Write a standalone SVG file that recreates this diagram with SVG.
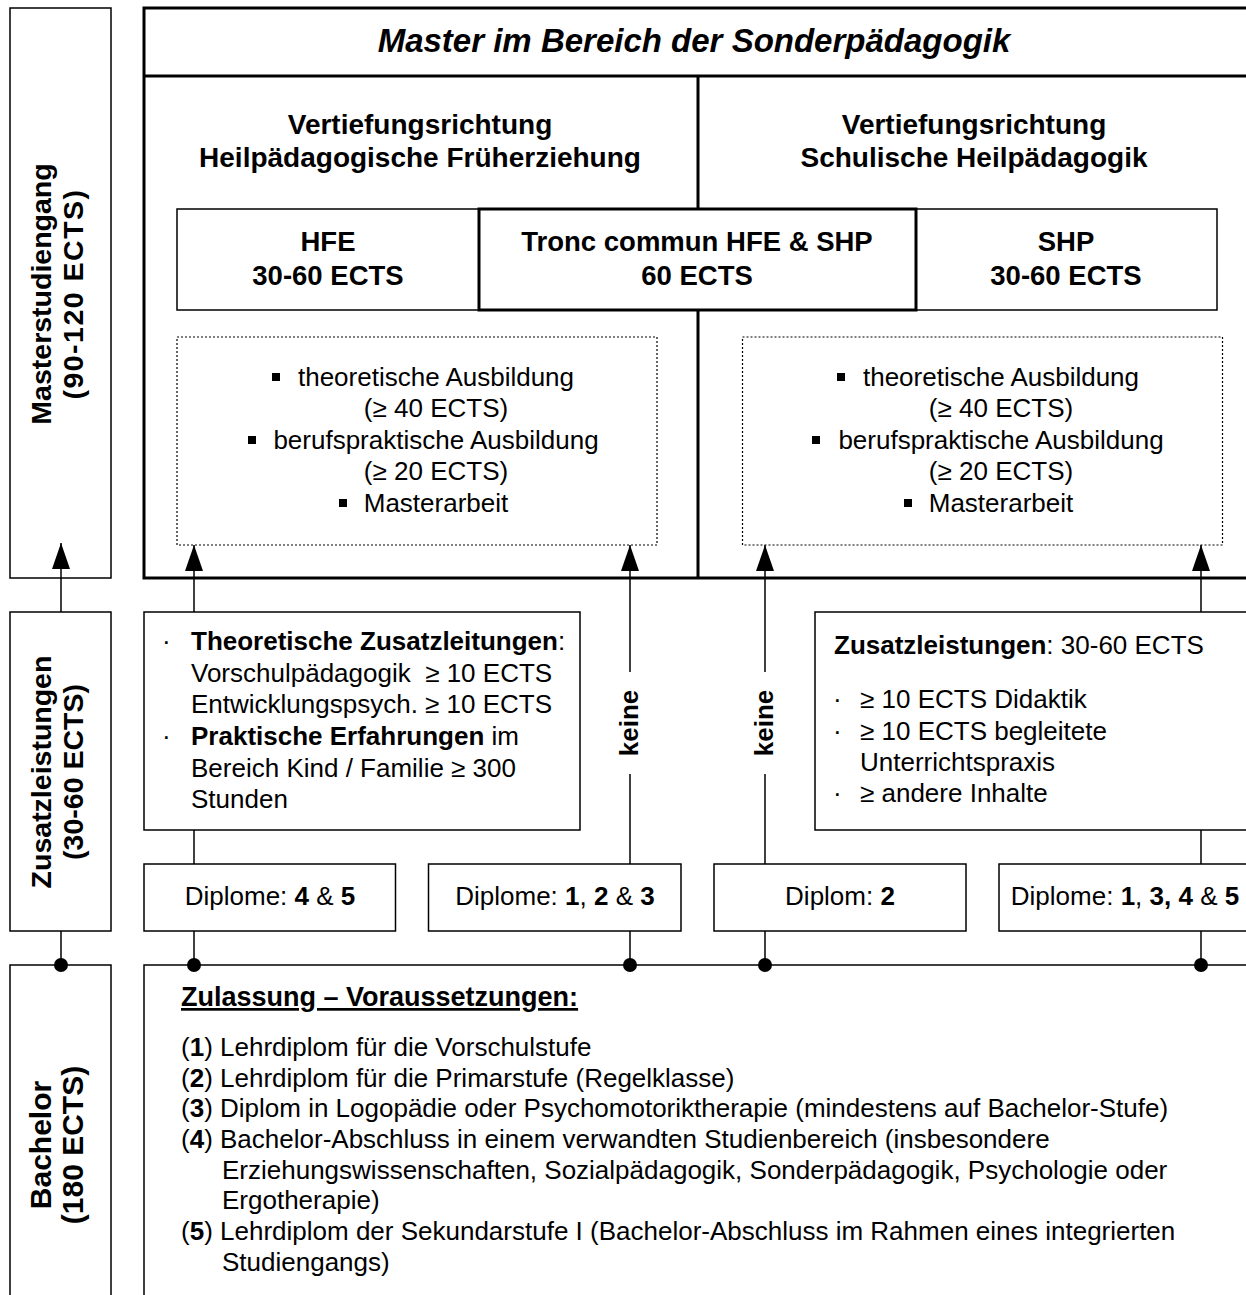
<svg xmlns="http://www.w3.org/2000/svg" width="1246" height="1295" viewBox="0 0 1246 1295">
<defs>
<style>
.box{fill:#fff;stroke:#000;stroke-width:1.5}
.thick{fill:#fff;stroke:#000;stroke-width:3}
.dotted{fill:none;stroke:#000;stroke-width:1.2;stroke-dasharray:2 2}
.ln{stroke:#000;stroke-width:1.5;fill:none}
.hl{stroke:#000;stroke-width:3;fill:none}
text{font-family:"Liberation Sans",Arial,sans-serif;fill:#000}
.b{font-weight:bold}
.c{text-anchor:middle}
.t26{font-size:26px}
.t27{font-size:27.5px;font-weight:bold;text-anchor:middle}
.t28{font-size:28px;font-weight:bold;text-anchor:middle}
.side{font-size:28.5px;font-weight:bold;text-anchor:middle}
</style>
<marker id="arr" markerUnits="userSpaceOnUse" markerWidth="26" markerHeight="18" refX="26" refY="9" orient="auto" viewBox="0 0 26 18">
<path d="M0,0 L26,9 L0,18 z" fill="#000"/>
</marker>
</defs>
<rect width="1246" height="1295" fill="#fff"/>

<g id="side-master">
<rect class="box" x="10" y="8" width="101" height="570"/>
<text class="side" transform="translate(61,294) rotate(-90)"><tspan x="0" y="-10">Masterstudiengang</tspan><tspan x="0" y="22" letter-spacing="1.5">(90-120 ECTS)</tspan></text>
</g>
<g id="side-zusatz">
<rect class="box" x="10" y="612" width="101" height="319"/>
<text class="side" transform="translate(61,772) rotate(-90)"><tspan x="0" y="-10">Zusatzleistungen</tspan><tspan x="0" y="22">(30-60 ECTS)</tspan></text>
</g>
<g id="side-bachelor">
<rect class="box" x="10" y="965" width="101" height="345"/>
<text class="side" style="font-size:30px" transform="translate(61,1145) rotate(-90)"><tspan x="0" y="-10">Bachelor</tspan><tspan x="0" y="22">(180 ECTS)</tspan></text>
</g>

<g id="master">
<rect class="thick" x="144" y="8" width="1130" height="570"/>
<line class="hl" x1="144" y1="76" x2="1274" y2="76"/>
<line class="hl" x1="698" y1="76" x2="698" y2="578"/>
<text class="c b" x="694" y="52" style="font-size:33px;font-style:italic">Master im Bereich der Sonderpädagogik</text>
</g>
<g id="vr-hfe">
<text class="t28"><tspan x="420" y="134">Vertiefungsrichtung</tspan><tspan x="420" y="167">Heilpädagogische Früherziehung</tspan></text>
</g>
<g id="vr-shp">
<text class="t28"><tspan x="974" y="134">Vertiefungsrichtung</tspan><tspan x="974" y="167">Schulische Heilpädagogik</tspan></text>
</g>
<g id="hfe">
<rect class="box" x="177" y="209" width="302" height="101"/>
<text class="t27"><tspan x="328" y="251">HFE</tspan><tspan x="328" y="285">30-60 ECTS</tspan></text>
</g>
<g id="shp">
<rect class="box" x="916" y="209" width="301" height="101"/>
<text class="t27"><tspan x="1066" y="251">SHP</tspan><tspan x="1066" y="285">30-60 ECTS</tspan></text>
</g>
<g id="tronc">
<rect class="thick" x="479" y="209" width="437" height="101"/>
<text class="t27"><tspan x="697" y="251">Tronc commun HFE &amp; SHP</tspan><tspan x="697" y="285">60 ECTS</tspan></text>
</g>

<g id="content-hfe">
<rect class="dotted" x="177" y="337" width="480" height="208"/>
<text class="t26 c"><tspan x="436" y="386">theoretische Ausbildung</tspan><tspan x="436" y="417">(≥ 40 ECTS)</tspan><tspan x="436" y="449">berufspraktische Ausbildung</tspan><tspan x="436" y="480">(≥ 20 ECTS)</tspan><tspan x="436" y="512">Masterarbeit</tspan></text>
<rect x="272" y="373" width="8" height="8"/>
<rect x="248" y="436" width="8" height="8"/>
<rect x="339" y="499" width="8" height="8"/>
</g>
<g id="content-shp">
<rect class="dotted" x="742.5" y="337" width="480" height="208"/>
<text class="t26 c"><tspan x="1001" y="386">theoretische Ausbildung</tspan><tspan x="1001" y="417">(≥ 40 ECTS)</tspan><tspan x="1001" y="449">berufspraktische Ausbildung</tspan><tspan x="1001" y="480">(≥ 20 ECTS)</tspan><tspan x="1001" y="512">Masterarbeit</tspan></text>
<rect x="837" y="373" width="8" height="8"/>
<rect x="812" y="436" width="8" height="8"/>
<rect x="904" y="499" width="8" height="8"/>
</g>

<g id="zusatz-hfe">
<rect class="box" x="144" y="612" width="436" height="218"/>
<text class="t26"><tspan x="162" y="650">·</tspan><tspan x="191" y="650" class="b">Theoretische Zusatzleitungen</tspan><tspan>:</tspan><tspan x="191" y="682">Vorschulpädagogik &#160;≥ 10 ECTS</tspan><tspan x="191" y="713">Entwicklungspsych. ≥ 10 ECTS</tspan><tspan x="162" y="745">·</tspan><tspan x="191" y="745" class="b">Praktische Erfahrungen</tspan><tspan> im</tspan><tspan x="191" y="777">Bereich Kind / Familie ≥ 300</tspan><tspan x="191" y="808">Stunden</tspan></text>
</g>
<g id="zusatz-shp">
<rect class="box" x="815" y="612" width="450" height="218"/>
<text class="t26"><tspan x="834" y="654" class="b">Zusatzleistungen</tspan><tspan>: 30-60 ECTS</tspan><tspan x="833" y="708">·</tspan><tspan x="860" y="708">≥ 10 ECTS Didaktik</tspan><tspan x="833" y="740">·</tspan><tspan x="860" y="740">≥ 10 ECTS begleitete</tspan><tspan x="860" y="771">Unterrichtspraxis</tspan><tspan x="833" y="802">·</tspan><tspan x="860" y="802">≥ andere Inhalte</tspan></text>
</g>

<g id="dipl-45">
<rect class="box" x="144" y="864" width="251.5" height="67"/>
<text class="t26 c" x="270" y="905">Diplome: <tspan class="b">4</tspan> &amp; <tspan class="b">5</tspan></text>
</g>
<g id="dipl-123">
<rect class="box" x="428.5" y="864" width="252.5" height="67"/>
<text class="t26 c" x="555" y="905">Diplome: <tspan class="b">1</tspan>, <tspan class="b">2</tspan> &amp; <tspan class="b">3</tspan></text>
</g>
<g id="dipl-2">
<rect class="box" x="714" y="864" width="252" height="67"/>
<text class="t26 c" x="840" y="905">Diplom: <tspan class="b">2</tspan></text>
</g>
<g id="dipl-1345">
<rect class="box" x="999" y="864" width="270" height="67"/>
<text class="t26 c" x="1125" y="905">Diplome: <tspan class="b">1</tspan>, <tspan class="b">3, 4</tspan> &amp; <tspan class="b">5</tspan></text>
</g>

<g id="zulassung">
<rect class="box" x="144" y="965" width="1130" height="345"/>
<text class="b" x="181" y="1006" style="font-size:27px;text-decoration:underline">Zulassung – Voraussetzungen:</text>
<text class="t26">
<tspan x="181" y="1056">(<tspan class="b">1</tspan>) Lehrdiplom für die Vorschulstufe</tspan>
<tspan x="181" y="1087">(<tspan class="b">2</tspan>) Lehrdiplom für die Primarstufe (Regelklasse)</tspan>
<tspan x="181" y="1117">(<tspan class="b">3</tspan>) Diplom in Logopädie oder Psychomotoriktherapie (mindestens auf Bachelor-Stufe)</tspan>
<tspan x="181" y="1148">(<tspan class="b">4</tspan>) Bachelor-Abschluss in einem verwandten Studienbereich (insbesondere</tspan>
<tspan x="222" y="1179">Erziehungswissenschaften, Sozialpädagogik, Sonderpädagogik, Psychologie oder</tspan>
<tspan x="222" y="1209">Ergotherapie)</tspan>
<tspan x="181" y="1240">(<tspan class="b">5</tspan>) Lehrdiplom der Sekundarstufe I (Bachelor-Abschluss im Rahmen eines integrierten</tspan>
<tspan x="222" y="1271">Studiengangs)</tspan>
</text>
</g>

<g id="connectors">
<line class="ln" x1="61" y1="612" x2="61" y2="543" marker-end="url(#arr)"/>
<line class="ln" x1="61" y1="931" x2="61" y2="965"/>
<circle cx="61" cy="965" r="7"/>
<line class="ln" x1="194" y1="612" x2="194" y2="545" marker-end="url(#arr)"/>
<line class="ln" x1="194" y1="830" x2="194" y2="864"/>
<line class="ln" x1="194" y1="931" x2="194" y2="965"/>
<circle cx="194" cy="965" r="7"/>
<line class="ln" x1="630" y1="864" x2="630" y2="774"/>
<line class="ln" x1="630" y1="672" x2="630" y2="545" marker-end="url(#arr)"/>
<line class="ln" x1="630" y1="931" x2="630" y2="965"/>
<circle cx="630" cy="965" r="7"/>
<text class="b" style="font-size:26px" text-anchor="middle" transform="translate(638,723) rotate(-90)">keine</text>
<line class="ln" x1="765" y1="864" x2="765" y2="774"/>
<line class="ln" x1="765" y1="672" x2="765" y2="545" marker-end="url(#arr)"/>
<line class="ln" x1="765" y1="931" x2="765" y2="965"/>
<circle cx="765" cy="965" r="7"/>
<text class="b" style="font-size:26px" text-anchor="middle" transform="translate(773,723) rotate(-90)">keine</text>
<line class="ln" x1="1201" y1="612" x2="1201" y2="545" marker-end="url(#arr)"/>
<line class="ln" x1="1201" y1="830" x2="1201" y2="864"/>
<line class="ln" x1="1201" y1="931" x2="1201" y2="965"/>
<circle cx="1201" cy="965" r="7"/>
</g>
</svg>
